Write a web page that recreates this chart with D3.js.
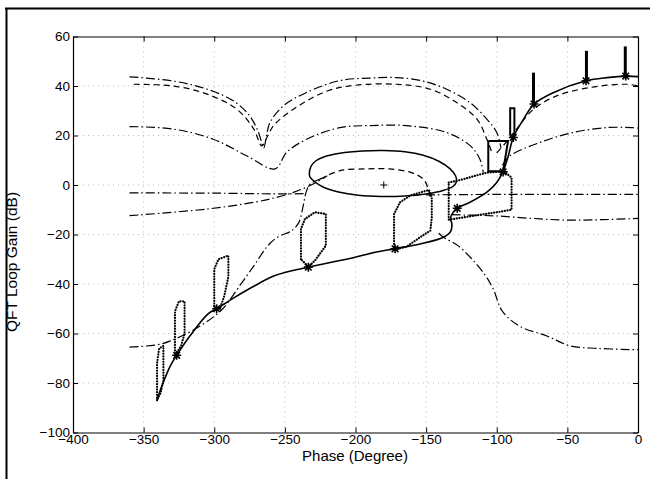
<!DOCTYPE html>
<html>
<head>
<meta charset="utf-8">
<script src="https://cdn.jsdelivr.net/npm/d3@7"></script>
<style>
  body { margin: 0; background: #fff; }
  text { font-family: "Liberation Sans", Arial, sans-serif; fill: #000; }
</style>
</head>
<body>
<svg id="chart"></svg>
<script>
// values (phase in degrees, gain in dB)
var xTicks = [-400, -350, -300, -250, -200, -150, -100, -50, 0];
var yTicks = [-100, -80, -60, -40, -20, 0, 20, 40, 60];

// nominal loop (solid)
var nomPhase = [-340.7, -336, -331, -326.6, -317, -304.2, -298.3, -285.3, -271, -257, -233.4, -205, -186, -173, -154.3, -137.8, -132.5, -131.8, -132.8, -130.8, -128, -119, -107, -100, -95.3, -91.8, -88.3, -81, -73.6, -60, -36.8, -22, -8.7, 0];
var nomGain = [-87, -79.6, -73, -68.8, -60.8, -52, -50, -45.3, -40.6, -36.6, -33.2, -29.8, -27.2, -25.8, -23.8, -21.1, -18.6, -15.7, -13.5, -11, -9.4, -7, -2.9, 1, 5.8, 11.8, 19.2, 26.6, 32.7, 37.3, 42.1, 43.4, 44, 43.8];

// design frequencies marked with *
var starPhase = [-326.6, -298.3, -233.4, -172, -128, -95.5, -88.3, -73.6, -36.8, -8.7];
var starGain = [-68.8, -50, -33.2, -25.8, -9.4, 5.3, 19.2, 32.7, 42.1, 44];

// bounds (dash-dot unless noted)
var topAPhase = [-360, -329, -305, -286.5, -275, -268.5, -265, -263, -260.5, -251, -235, -211, -190, -171, -152, -135.5, -119, -107, -100, -97];
var topAGain = [43.7, 42, 38.7, 34, 28, 21, 15, 20, 25.3, 32, 37.3, 42.2, 43.2, 43.4, 42, 38.7, 33.3, 26.6, 21.2, 15];

var topBPhase = [-357, -329, -305, -284, -272, -266.4, -262, -258, -244, -220, -200, -171, -147, -128.4, -114, -107, -103.5];
var topBGain = [40.7, 40, 36.7, 30.6, 22.6, 15.8, 20, 24, 30.6, 38, 40.3, 40.7, 38.7, 33.3, 26.6, 18.5, 13.2];
var topBRPhase = [-100, -93, -86, -74, -57.6, -34, -8, 0];
var topBRGain = [13, 17.5, 22.6, 30.6, 36, 39.4, 40.7, 40];

var midPhase = [-360, -329, -300.7, -277, -257, -248.7, -234.6, -211, -190, -164, -135.5, -119, -112, -109.5];
var midGain = [23.6, 22.6, 18.5, 11.8, 6.5, 13.2, 18.5, 23.2, 24, 24, 21.2, 16, 10.5, 5];
var midRPhase = [-96, -90.6, -69.4, -46, -22, -4.5, 0];
var midRGain = [8, 11.8, 17.2, 21.2, 23.2, 23.2, 23];

var flatLPhase = [-360, -300, -253, -235];
var flatLGain = [-3.2, -3.3, -3.6, -3.5];
var flatRPhase = [-150, -100, -50, 0];
var flatRGain = [-4, -3.8, -3.8, -3.8];

var lowAPhase = [-360, -305, -272, -256, -244, -230, -220];
var lowAGain = [-12.4, -9.7, -7, -5, -3, 0.4, 3.7];
var innerPhase = [-225, -211, -192, -176, -161, -152, -148.5, -147];
var innerGain = [2.4, 5.8, 6.5, 6.5, 5.1, 2.4, -1.6, -5.5];
var lowARPhase = [-132, -118, -100, -75, -50, -25, 0];
var lowARGain = [-12, -12.2, -12.5, -13.5, -14.2, -14, -13.5];

var lowBPhase = [-360, -340, -331, -310, -294, -282, -272, -262, -255, -245, -240, -237, -235, -232, -222];
var lowBGain = [-65.5, -64.5, -63, -57, -50, -40.7, -32.7, -24.5, -21, -18.4, -15, -8.3, -3, 0.4, 3.1];
var lowBRPhase = [-141, -138, -127.5, -117.8, -108, -102.5, -96, -84, -64.5, -48, -29, -4, 0];
var lowBRGain = [-19.5, -21, -24.5, -29.8, -36.6, -42, -51, -57, -61, -65, -66, -66.5, -66.5];

// closed contour around the critical point (solid)
var ringPhase = [-232.7, -231.5, -228, -222, -211, -195, -180, -165, -152, -141, -133, -129, -128.6, -131, -138, -150, -165, -182, -198, -212, -223, -229.5, -232.2];
var ringGain = [4.5, 7.5, 9.8, 11.4, 12.8, 13.7, 13.9, 13.4, 12, 9.6, 6.5, 3.5, 1.2, -0.6, -2.2, -3.6, -4.4, -4.6, -4.1, -2.8, -0.8, 1.6, 3.2];

// plant templates (dotted)
var t1Phase = [-340.5, -340.5, -339, -336, -336, -338];
var t1Gain = [-87, -72, -66, -65, -79, -84];
var t2Phase = [-327.8, -327.8, -325, -321, -321, -323.5];
var t2Gain = [-69, -51, -47, -47, -60, -65];
var t3Phase = [-300, -300, -297, -290, -290, -293, -296];
var t3Gain = [-49, -34, -30, -28.5, -37, -45, -50];
var t4Phase = [-238.6, -238.6, -235.8, -228.7, -221, -221, -228.7, -233.4];
var t4Gain = [-30, -17.7, -13.7, -11, -11.7, -24.5, -30.5, -33];
var t5Phase = [-172.7, -172.7, -168.5, -161.4, -154, -148, -146, -146, -147, -154, -164];
var t5Gain = [-26, -11.7, -7, -4.3, -3, -2, -5, -13, -18.4, -21, -25];
var t6Phase = [-134, -126, -107, -95, -89.5, -89.5, -100, -115, -125, -134];
var t6Gain = [1, 2, 5, 5.5, 3, -10, -11, -12.3, -13.2, -14];

// solid template edges
var boxPhase = [-106, -92, -95.5, -106, -106];
var boxGain = [17.8, 17.8, 5.6, 5.6, 17.8];
var slotPhase = [-90.5, -90.5, -87.5, -87.5];
var slotGain = [20, 31, 31, 20];
var barPhase = [-74, -36.5, -9];
var barLow = [33, 42.5, 44.5];
var barHigh = [45.4, 54.2, 56];

var W = 650, H = 479;
var svg = d3.select("#chart").attr("width", W).attr("height", H);

var x = d3.scaleLinear().domain([-400, 0]).range([73, 638]);
var y = d3.scaleLinear().domain([-100, 60]).range([432.5, 36.5]);

// outer frame of the scan
svg.append("path").attr("d", "M5,8.5H650M6.5,8V479")
  .attr("fill", "none").attr("stroke", "#000").attr("stroke-width", 2);

// grid
var grid = svg.append("g").attr("stroke", "#aaa").attr("stroke-width", 0.8)
  .attr("stroke-dasharray", "1,4");
xTicks.slice(1, -1).forEach(function(t) {
  grid.append("line").attr("x1", x(t)).attr("x2", x(t)).attr("y1", y(-100)).attr("y2", y(60));
});
yTicks.slice(1, -1).forEach(function(t) {
  grid.append("line").attr("x1", x(-400)).attr("x2", x(0)).attr("y1", y(t)).attr("y2", y(t));
});

// axes, ticks pointing inward like MATLAB
function styleAxis(g) {
  g.select(".domain").attr("stroke-width", 1.2);
  g.selectAll(".tick line").attr("stroke-width", 1);
  g.selectAll("text").style("font-size", "13.5px").attr("fill", "#000");
}
svg.append("g").attr("transform", "translate(0," + y(-100) + ")")
  .call(d3.axisBottom(x).tickValues(xTicks).tickSize(-5).tickPadding(2).tickSizeOuter(0))
  .call(styleAxis);
svg.append("g").attr("transform", "translate(" + x(-400) + ",0)")
  .call(d3.axisLeft(y).tickValues(yTicks).tickSize(-5).tickPadding(3).tickSizeOuter(0))
  .call(styleAxis);
svg.append("g").attr("transform", "translate(0," + y(60) + ")")
  .call(d3.axisTop(x).tickValues(xTicks).tickSize(-5).tickFormat("").tickSizeOuter(0))
  .call(styleAxis);
svg.append("g").attr("transform", "translate(" + x(0) + ",0)")
  .call(d3.axisRight(y).tickValues(yTicks).tickSize(-5).tickFormat("").tickSizeOuter(0))
  .call(styleAxis);

// axis titles
svg.append("text").attr("x", 355).attr("y", 461).attr("text-anchor", "middle")
  .style("font-size", "15px").text("Phase (Degree)");
svg.append("text").attr("transform", "translate(17,262) rotate(-90)")
  .attr("text-anchor", "middle").style("font-size", "15.5px").text("QFT Loop Gain (dB)");

var line = d3.line().x(function(d) { return x(d[0]); }).y(function(d) { return y(d[1]); })
  .curve(d3.curveCatmullRom.alpha(0.5));
var straight = d3.line().x(function(d) { return x(d[0]); }).y(function(d) { return y(d[1]); });

var plot = svg.append("g").attr("fill", "none").attr("stroke", "#000");

function draw(ph, gn, dash, width, gen) {
  return plot.append("path").attr("d", (gen || line)(d3.zip(ph, gn)))
    .attr("stroke-width", width).attr("stroke-dasharray", dash);
}

var dashDot = "9,3,1.5,3";
var dashed = "6,4";
draw(topAPhase, topAGain, dashDot, 1.2);
draw(topBPhase, topBGain, dashed, 1.2);
draw(topBRPhase, topBRGain, dashed, 1.2);
draw(midPhase, midGain, dashDot, 1.2);
draw(midRPhase, midRGain, dashDot, 1.2);
draw(flatLPhase, flatLGain, dashDot, 1.2);
draw(flatRPhase, flatRGain, dashDot, 1.2);
draw(lowAPhase, lowAGain, dashDot, 1.2);
draw(innerPhase, innerGain, dashed, 1.3);
draw(lowARPhase, lowARGain, dashDot, 1.2);
draw(lowBPhase, lowBGain, dashDot, 1.2);
draw(lowBRPhase, lowBRGain, dashDot, 1.2);

// closed contour
plot.append("path")
  .attr("d", d3.line().x(function(d) { return x(d[0]); }).y(function(d) { return y(d[1]); })
    .curve(d3.curveCatmullRomClosed.alpha(0.5))(d3.zip(ringPhase, ringGain)))
  .attr("stroke-width", 1.5);

// templates
var dots = "0.1,2.6";
[[t1Phase, t1Gain], [t2Phase, t2Gain], [t3Phase, t3Gain], [t4Phase, t4Gain], [t5Phase, t5Gain], [t6Phase, t6Gain]]
  .forEach(function(t) {
    plot.append("path").attr("d", straight(d3.zip(t[0], t[1])) + "Z")
      .attr("stroke-width", 2.2).attr("stroke-linecap", "round").attr("stroke-dasharray", dots);
  });
draw(boxPhase, boxGain, null, 2, straight);
draw(slotPhase, slotGain, null, 2, straight);
barPhase.forEach(function(p, i) {
  plot.append("line").attr("x1", x(p)).attr("x2", x(p))
    .attr("y1", y(barLow[i])).attr("y2", y(barHigh[i])).attr("stroke-width", 3);
});

// nominal loop
draw(nomPhase, nomGain, null, 1.6);

// markers
var star = "M-4.5,0H4.5M0,-4.5V4.5M-3.3,-3.3L3.3,3.3M-3.3,3.3L3.3,-3.3";
starPhase.forEach(function(p, i) {
  plot.append("path").attr("d", star).attr("stroke-width", 1.6)
    .attr("transform", "translate(" + x(p) + "," + y(starGain[i]) + ")");
});
plot.append("path").attr("d", "M-3.5,0H3.5M0,-3.5V3.5").attr("stroke-width", 1)
  .attr("transform", "translate(" + x(-180) + "," + y(0) + ")");
</script>
</body>
</html>
